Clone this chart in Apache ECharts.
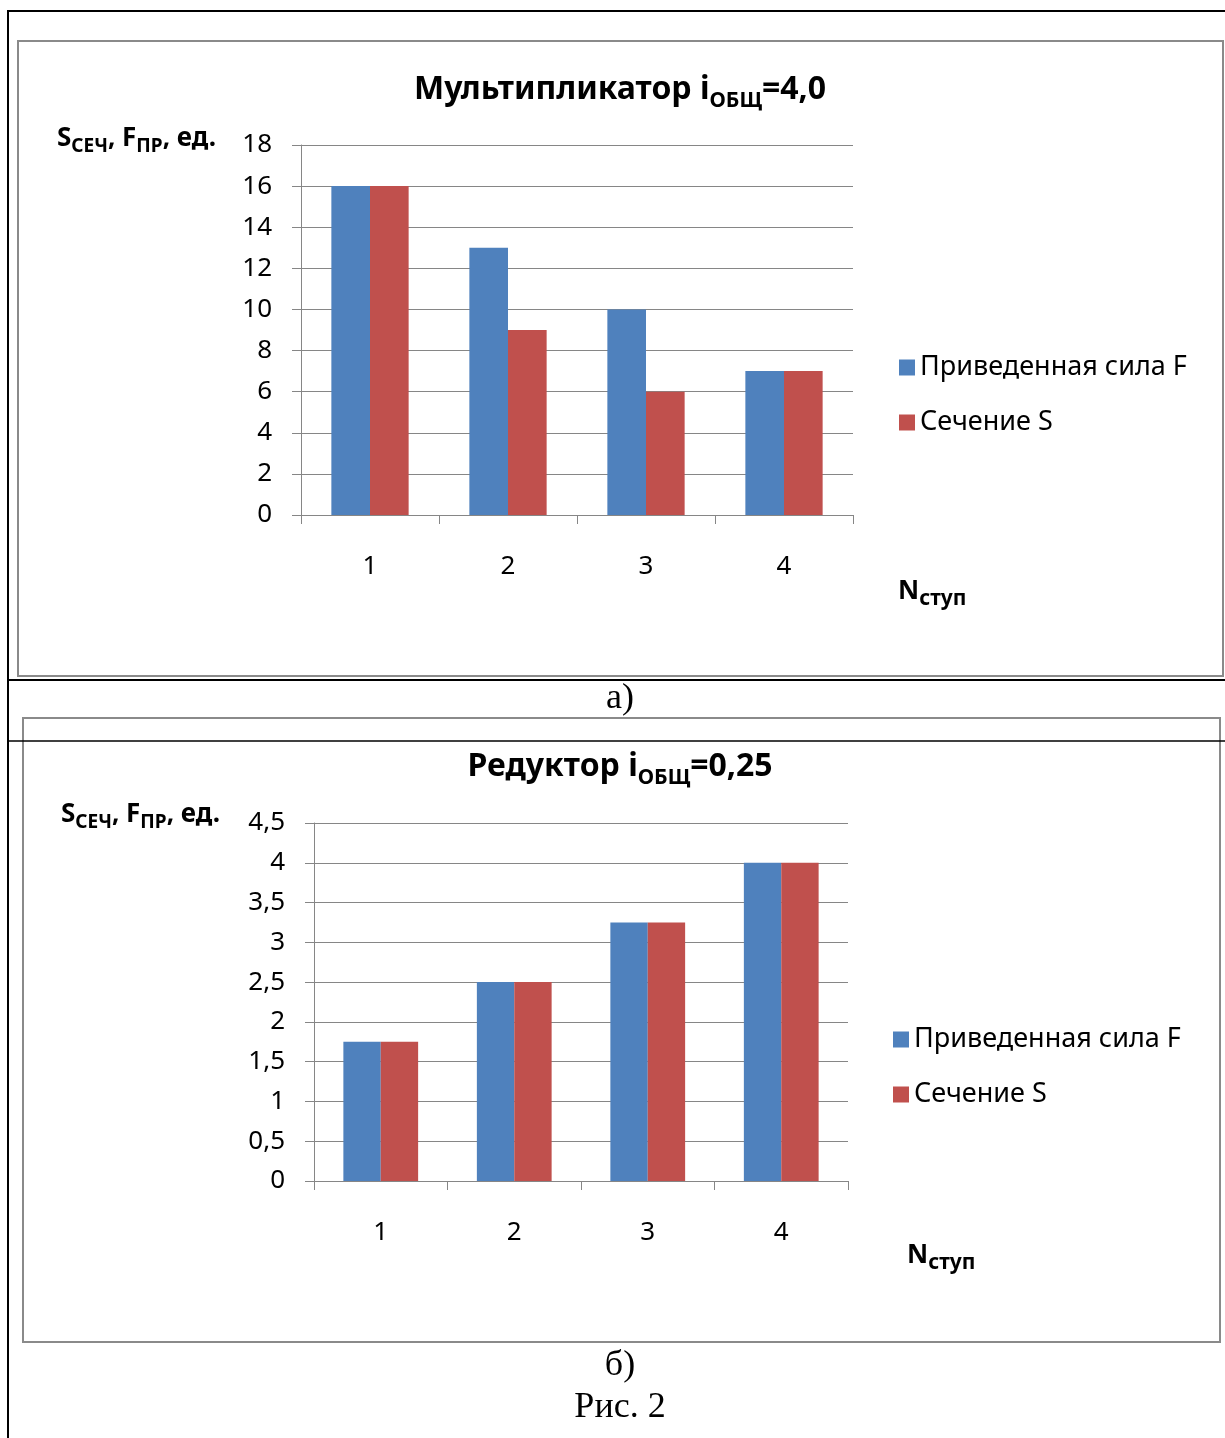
<!DOCTYPE html>
<html>
<head>
<meta charset="utf-8">
<script src="https://cdn.jsdelivr.net/npm/echarts@6/dist/echarts.min.js"></script>
<style>
html,body{margin:0;padding:0;background:#fff;}
#c{width:1225px;height:1438px;}
</style>
</head>
<body>
<div id="c"></div>
<script>
const categories = ['1', '2', '3', '4'];
const seriesNames = ['Приведенная сила F', 'Сечение S'];
// Chart а) Мультипликатор
const forceA = [16, 13, 10, 7];
const sectionA = [16, 9, 6, 7];
const yMinA = 0, yMaxA = 18, yStepA = 2;
// Chart б) Редуктор
const forceB = [1.75, 2.5, 3.25, 4];
const sectionB = [1.75, 2.5, 3.25, 4];
const yMinB = 0, yMaxB = 4.5, yStepB = 0.5;

const BLUE = '#4F81BD', RED = '#C0504D', GRID = '#868686';
const FONT = 'Noto Sans';

const chart = echarts.init(document.getElementById('c'), null, {renderer: 'canvas'});

function xAxis(gi) {
  return {
    type: 'category', gridIndex: gi, data: categories,
    axisLine: {lineStyle: {color: GRID, width: 1}},
    axisTick: {show: true, length: 9, lineStyle: {color: GRID}},
    axisLabel: {color: '#000', fontFamily: FONT, fontSize: 26, margin: 39}
  };
}
function yAxis(gi, min, max, step) {
  return {
    type: 'value', gridIndex: gi, min: min, max: max, interval: step,
    axisLine: {show: true, lineStyle: {color: GRID, width: 1}},
    axisTick: {show: true, length: 9, lineStyle: {color: GRID}},
    splitLine: {show: true, lineStyle: {color: GRID, width: 1}},
    axisLabel: {color: '#000', fontFamily: FONT, fontSize: 26, margin: 29,
      formatter: v => String(v).replace('.', ',')}
  };
}
function bar(name, data, gi, color) {
  return {
    type: 'bar', name: name, data: data, xAxisIndex: gi, yAxisIndex: gi,
    barGap: '0%', barCategoryGap: '44%',
    itemStyle: {color: color}, animation: false
  };
}
function legend(left, top) {
  return {
    data: seriesNames, orient: 'vertical', left: left, top: top,
    icon: 'rect', itemWidth: 16, itemHeight: 16, itemGap: 26,
    textStyle: {fontFamily: FONT, fontSize: 27, color: '#000', lineHeight: 29},
    selectedMode: false, padding: 0
  };
}

function richText(x, y, align, text, rich) {
  return {type: 'text', x: x, y: y, style: {text: text, rich: rich, align: align, verticalAlign: 'middle', fill: '#000'}};
}
const titleRich = {
  a: {fontFamily: FONT, fontWeight: 'bold', fontSize: 32, lineHeight: 38, verticalAlign: 'top', fill: '#000'},
  b: {fontFamily: FONT, fontWeight: 'bold', fontSize: 21, lineHeight: 25, verticalAlign: 'bottom', fill: '#000'}
};
const axRich = {
  a: {fontFamily: FONT, fontWeight: 'bold', fontSize: 26, lineHeight: 31, verticalAlign: 'top', fill: '#000'},
  b: {fontFamily: FONT, fontWeight: 'bold', fontSize: 19, lineHeight: 21, verticalAlign: 'bottom', fill: '#000'}
};
const nRich = {
  a: {fontFamily: FONT, fontWeight: 'bold', fontSize: 26, lineHeight: 31, verticalAlign: 'top', fill: '#000'},
  b: {fontFamily: FONT, fontWeight: 'bold', fontSize: 21, lineHeight: 21, verticalAlign: 'bottom', fill: '#000'}
};

const option = {
  animation: false,
  backgroundColor: '#fff',
  grid: [
    {left: 301, top: 145, width: 552, height: 370},
    {left: 314, top: 823, width: 534, height: 358}
  ],
  xAxis: [xAxis(0), xAxis(1)],
  yAxis: [yAxis(0, yMinA, yMaxA, yStepA), yAxis(1, yMinB, yMaxB, yStepB)],
  legend: [legend(899, 353), legend(893, 1025)],
  series: [
    bar(seriesNames[0], forceA, 0, BLUE),
    bar(seriesNames[1], sectionA, 0, RED),
    bar(seriesNames[0], forceB, 1, BLUE),
    bar(seriesNames[1], sectionB, 1, RED)
  ],
  graphic: [
    // outer document frame lines
    {type: 'line', shape: {x1: 8, y1: 11, x2: 1225, y2: 11}, style: {stroke: '#000', lineWidth: 2}, z: 100},
    {type: 'line', shape: {x1: 8, y1: 10, x2: 8, y2: 1438}, style: {stroke: '#000', lineWidth: 2}, z: 100},
    {type: 'line', shape: {x1: 8, y1: 680, x2: 1225, y2: 680}, style: {stroke: '#000', lineWidth: 2}, z: 100},
    {type: 'line', shape: {x1: 8, y1: 741, x2: 1225, y2: 741}, style: {stroke: '#000', lineWidth: 1.5}, z: 100},
    // chart area borders
    {type: 'rect', shape: {x: 18, y: 41, width: 1205, height: 635}, style: {fill: null, stroke: '#8a8a8a', lineWidth: 2}, z: 90},
    {type: 'rect', shape: {x: 23, y: 718, width: 1197, height: 624}, style: {fill: null, stroke: '#8a8a8a', lineWidth: 2}, z: 90},
    // titles
    richText(620, 93, 'center', '{a|Мультипликатор i}{b|ОБЩ}{a|=4,0}', titleRich),
    richText(620, 770, 'center', '{a|Редуктор i}{b|ОБЩ}{a|=0,25}', titleRich),
    // y axis names
    richText(57, 141, 'left', '{a|S}{b|СЕЧ}{a|, F}{b|ПР}{a|, ед.}', axRich),
    richText(61, 817, 'left', '{a|S}{b|СЕЧ}{a|, F}{b|ПР}{a|, ед.}', axRich),
    // x axis names
    richText(898, 594, 'left', '{a|N}{b|ступ}', nRich),
    richText(907, 1258, 'left', '{a|N}{b|ступ}', nRich),
    // captions
    {type: 'text', x: 620, y: 699, style: {text: 'а)', font: '36px "Liberation Serif"', fill: '#000', align: 'center', verticalAlign: 'middle'}},
    {type: 'text', x: 620, y: 1366, style: {text: 'б)', font: '36px "Liberation Serif"', fill: '#000', align: 'center', verticalAlign: 'middle'}},
    {type: 'text', x: 620, y: 1408, style: {text: 'Рис. 2', font: '36px "Liberation Serif"', fill: '#000', align: 'center', verticalAlign: 'middle'}}
  ]
};
chart.setOption(option);
</script>
</body>
</html>
